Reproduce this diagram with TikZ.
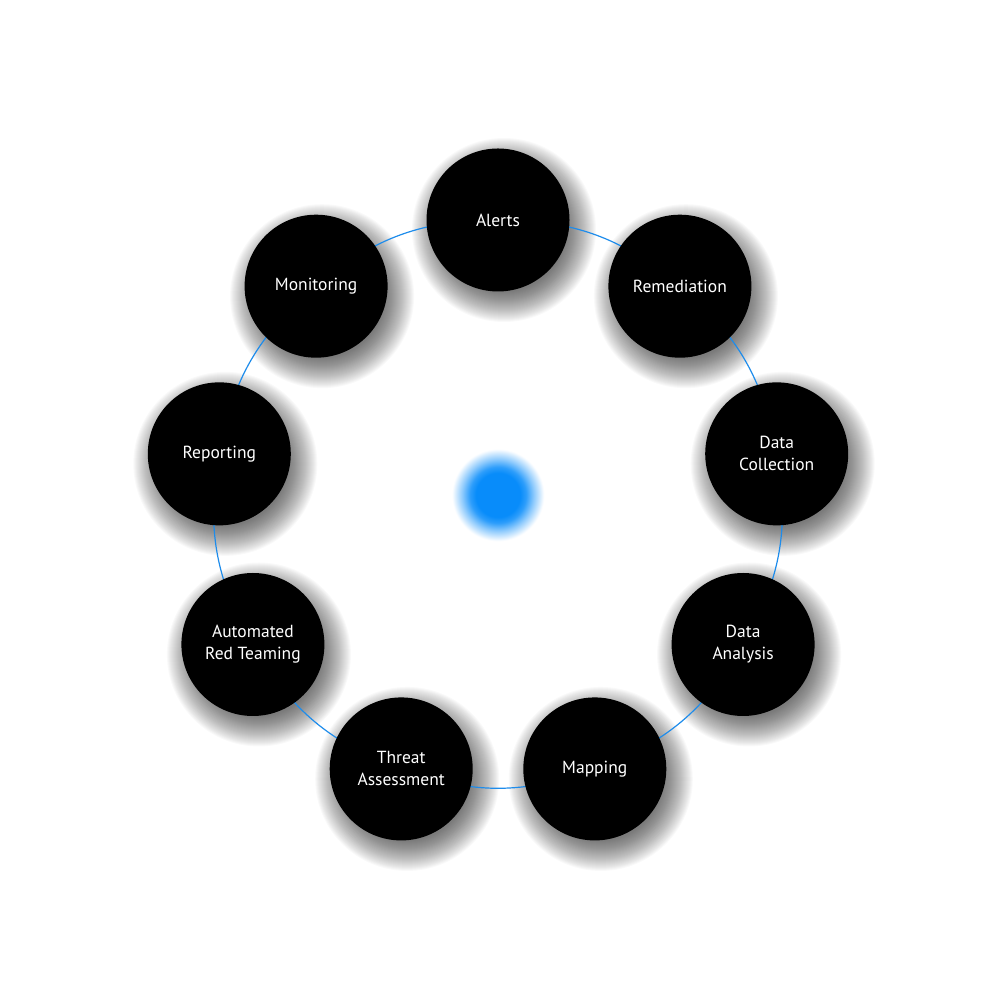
\documentclass[tikz,border=0pt]{standalone}
\usepackage{fontspec}
\setmainfont{PT Sans}
\usetikzlibrary{calc}
\pgfdeclarelayer{bg}
\pgfsetlayers{bg,main}
\definecolor{ringblue}{RGB}{30,140,235}
\definecolor{dotblue}{RGB}{8,140,250}
\pgfdeclareradialshading{bluedot}{\pgfpointorigin}{color(0bp)=(dotblue); color(11bp)=(dotblue); color(14bp)=(dotblue!85!white); color(18bp)=(dotblue!45!white); color(23bp)=(white); color(50bp)=(white)}
\begin{document}
\begin{tikzpicture}[x=1pt,y=1pt,
  stage/.style={circle, fill=black, text=white, minimum size=143pt, inner sep=0pt, align=center, font=\fontsize{17.5}{22}\selectfont},
  ring/.style={draw=ringblue, line width=1.2pt},
  shadowdisk/.style={fill=black, opacity=0.024}]
\useasboundingbox (0,0) rectangle (1000,1000);
\coordinate (ctr) at (498,497);
\node[stage] (alerts) at ($(ctr)+(90:283)$) {Alerts};
\node[stage] (remediation) at ($(ctr)+(50:283)$) {Remediation};
\node[stage] (collection) at ($(ctr)+(10:283)$) {Data\\Collection};
\node[stage] (analysis) at ($(ctr)+(-30:283)$) {Data\\Analysis};
\node[stage] (mapping) at ($(ctr)+(-70:283)$) {Mapping};
\node[stage] (threat) at ($(ctr)+(-110:283)$) {Threat\\Assessment};
\node[stage] (redteam) at ($(ctr)+(-150:283)$) {Automated\\Red Teaming};
\node[stage] (reporting) at ($(ctr)+(170:283)$) {Reporting};
\node[stage] (monitoring) at ($(ctr)+(130:283)$) {Monitoring};
\node[circle, minimum size=100pt, inner sep=0pt, shading=bluedot] (hub) at (498,505) {};
\begin{pgfonlayer}{bg}
  \foreach \n in {alerts,remediation,collection,analysis,mapping,threat,redteam,reporting,monitoring}{
    \foreach \k in {0,...,30}{
      \fill[shadowdisk] ($(\n.center)+(6,-10)$) circle[radius=62pt+1pt*\k];
    }
  }
  \draw[ring] (alerts.center) to[bend left=20] (remediation.center);
  \draw[ring] (remediation.center) to[bend left=20] (collection.center);
  \draw[ring] (collection.center) to[bend left=20] (analysis.center);
  \draw[ring] (analysis.center) to[bend left=20] (mapping.center);
  \draw[ring] (mapping.center) to[bend left=20] (threat.center);
  \draw[ring] (threat.center) to[bend left=20] (redteam.center);
  \draw[ring] (redteam.center) to[bend left=20] (reporting.center);
  \draw[ring] (reporting.center) to[bend left=20] (monitoring.center);
  \draw[ring] (monitoring.center) to[bend left=20] (alerts.center);
\end{pgfonlayer}
\end{tikzpicture}
\end{document}
